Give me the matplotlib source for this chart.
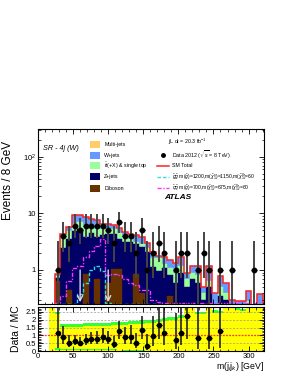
import numpy as np
import matplotlib
matplotlib.use("Agg")
import matplotlib.pyplot as plt
from matplotlib.patches import Rectangle
from matplotlib.lines import Line2D
from matplotlib.ticker import MultipleLocator, LogLocator, FixedFormatter, FixedLocator, NullFormatter

plt.rcParams['font.family'] = ['Liberation Sans', 'DejaVu Sans']
plt.rcParams['mathtext.fontset'] = 'custom'
plt.rcParams['mathtext.rm'] = 'Liberation Sans'
plt.rcParams['mathtext.it'] = 'Liberation Sans:italic'

# 8 GeV bins, 24 -> 320 GeV
edges = np.arange(24, 328, 8)
centers = edges[:-1] + 4

diboson = [0.65, 0.1, 0.45, 0.2, 0.1, 0.85, 0.1, 0.7, 0.2, 0.6, 1.05, 1.05, 0.15, 0.1, 0.85, 0.4, 0.1,
           0.05, 0.05, 0.05, 0.35, 0.05, 0.05, 0.05, 0.05, 0.05, 0.03, 0.05, 0.03, 0.05, 0.03, 0.03,
           0.02, 0.02, 0.03, 0.02, 0.02]
zjets = [0.07, 2.3, 3.05, 4.7, 5.1, 2.95, 4.4, 3.1, 4.0, 3.8, 3.25, 2.45, 2.95, 3.0, 2.05, 2.1, 2.0,
         1.1, 0.9, 1.05, 0.45, 0.55, 0.85, 0.45, 0.65, 0.55, 0.27, 0.45, 0.17, 0.3, 0.27, 0.12,
         0.13, 0.10, 0.17, 0.06, 0.18]
ttbar = [0.06, 1.4, 1.4, 1.5, 1.8, 2.2, 1.5, 1.4, 1.2, 1.0, 0.9, 1.0, 0.7, 0.5, 0.2, 0.4, 0.3,
         0.45, 0.65, 0.2, 0.3, 0.3, 0.3, 0.2, 0.2, 0.2, 0.1, 0.15, 0.05, 0.15, 0.1, 0.05,
         0.03, 0.03, 0.08, 0.02, 0.05]
wjets = [0.07, 0.6, 0.8, 2.9, 2.2, 2.8, 2.0, 2.4, 1.2, 1.2, 1.1, 1.1, 0.8, 0.7, 1.0, 0.9, 0.6,
         0.5, 0.2, 0.4, 0.4, 0.45, 0.5, 0.2, 0.3, 0.4, 0.1, 0.55, 0.15, 0.27, 0.2, 0.1,
         0.1, 0.13, 0.14, 0.1, 0.13]
data = [1, 4, 3, 6, 5, 6, 6, 6, 6, 5, 3, 7, 4, 4, 2, 5, 1, 2, 3, 2, 0, 1, 2, 2, 0, 1, 2, 1, 0, 1,
        0, 1, 0, 0, 0, 1, 0]
sig_gg = [0.255, 0.255, 0.255, 0.255, 0.37, 0.6, 1.0, 1.2, 0.95, 0.26, 0.255, 0.255, 0.255, 0.255,
          0.255, 0.255, 0.255, 0.255, 0.255, 0.255, 0.255, 0.255, 0.255, 0.255, 0.255, 0.255,
          0.255, 0.255, 0.255, 0.255, 0.255, 0.255, 0.255, 0.255, 0.255, 0.255, 0.255]
sig_qq = [0.26, 0.35, 0.63, 1.07, 1.2, 1.7, 2.2, 2.7, 3.6, 0.8, 0.85, 0.8, 0.7, 0.6, 0.55, 0.45,
          0.45, 0.3, 0.27, 0.26, 0.26, 0.26, 0.26, 0.26, 0.26, 0.26, 0.26, 0.26, 0.26, 0.26,
          0.26, 0.26, 0.26, 0.26, 0.26, 0.26, 0.26]

# ratio band (bins from 16 GeV)
band_edges = np.arange(16, 328, 8)
band_green_up = [3, 2.5, 1.75, 1.72, 1.75, 1.75, 1.78, 1.8, 1.78, 1.8, 1.82, 1.85, 1.85, 1.88, 1.9,
                 1.92, 1.95, 2.0, 2.0, 2.05, 2.1, 2.15, 2.2, 2.3, 3, 3, 2.5, 2.5, 3, 2.6, 2.55,
                 3, 3, 2.75, 2.7, 3, 3, 3]
band_yellow_up = [3, 2.35, 1.55, 1.52, 1.55, 1.55, 1.58, 1.6, 1.58, 1.6, 1.62, 1.65, 1.65, 1.68, 1.7,
                  1.72, 1.75, 1.8, 1.8, 1.85, 1.9, 1.95, 2.0, 2.1, 3, 3, 2.35, 2.35, 3, 2.45, 2.4,
                  3, 3, 2.6, 2.55, 3, 3, 3]
band_green_lo = [0, 0.05, 0.08, 0.08, 0.08, 0.08, 0.07, 0.07, 0.07, 0.06, 0.06, 0.05, 0.05, 0.04,
                 0.03, 0.02, 0.01, 0, 0, 0, 0, 0, 0, 0, 0, 0, 0, 0, 0, 0, 0, 0, 0, 0, 0, 0, 0, 0]
band_green_lo_top = [0, 0.2, 0.17, 0.16, 0.16, 0.15, 0.15, 0.14, 0.14, 0.13, 0.12, 0.11, 0.1, 0.09,
                     0.08, 0.07, 0.05, 0.03, 0, 0, 0, 0, 0, 0, 0, 0, 0, 0, 0, 0, 0, 0, 0, 0, 0, 0, 0, 0]

# poisson 68% intervals
pois_lo = {1: 0.17, 2: 0.71, 3: 1.37, 4: 2.09, 5: 2.84, 6: 3.62, 7: 4.42}
pois_hi = {1: 3.30, 2: 4.64, 3: 5.92, 4: 7.16, 5: 8.38, 6: 9.58, 7: 10.77}

c_multi = '#FFCC66'
c_w = '#6699FF'
c_tt = '#99FF99'
c_z = '#000066'
c_dib = '#663300'

fig = plt.figure(figsize=(2.89, 3.74), dpi=100)
ax = fig.add_axes([0.1315, 0.187, 0.782, 0.468])
rx = fig.add_axes([0.1315, 0.061, 0.782, 0.118])

diboson = np.array(diboson)
zjets = np.array(zjets)
ttbar = np.array(ttbar)
wjets = np.array(wjets)
data = np.array(data)
total = diboson + zjets + ttbar + wjets

layers = [(diboson + zjets + ttbar + wjets, c_w),
          (diboson + zjets + ttbar, c_tt),
          (diboson + zjets, c_z),
          (diboson, c_dib)]
for vals, col in layers:
    ax.bar(edges[:-1], vals - 1e-3, width=8, bottom=1e-3, align='edge', color=col,
           edgecolor=col, linewidth=0.3)

ax.stairs(total, edges, baseline=1e-3, color='#ff2222', lw=1.1)
ax.stairs(sig_gg, edges, color='#33dddd', lw=1.0, ls=(0, (2.5, 1.5)))
ax.stairs(sig_qq, edges, color='#ff33ff', lw=1.0, ls=(0, (3, 1.2, 1, 1.2)))

for xa in [60, 100]:
    ax.annotate('', xy=(xa, 0.27), xytext=(xa, 1.0),
                arrowprops=dict(arrowstyle='->', color='#dddddd', lw=1.0,
                                mutation_scale=9, shrinkA=0, shrinkB=0))

m = data > 0
lo = np.array([pois_lo[int(n)] for n in data[m]])
hi = np.array([pois_hi[int(n)] for n in data[m]])
ax.errorbar(centers[m], data[m], yerr=[data[m] - lo, hi - data[m]], fmt='none',
            ecolor='#444444', elinewidth=1.4, capsize=0)
ax.errorbar(centers[m], data[m], xerr=4, fmt='o', color='black', ms=3.2, elinewidth=0.8,
            capsize=0)

ax.set_yscale('log')
ax.set_xlim(0, 322)
ax.set_ylim(0.25, 310)
ax.yaxis.set_major_locator(FixedLocator([1, 10, 100]))
ax.yaxis.set_major_formatter(FixedFormatter(['1', '10', r'10$^{2}$']))
ax.yaxis.set_minor_locator(LogLocator(base=10, subs=np.arange(2, 10)))
ax.yaxis.set_minor_formatter(NullFormatter())
ax.xaxis.set_major_locator(MultipleLocator(50))
ax.xaxis.set_minor_locator(MultipleLocator(10))
ax.tick_params(labelbottom=False)
ax.set_ylabel('Events / 8 GeV', fontsize=8.5, loc='top')
ax.yaxis.set_label_coords(-0.105, 0.93)

# legend, left column
tr = ax.transAxes
labels_l = ['Multi-jets', 'W+jets', r'$\bar{t}$t(+X) & single top', 'Z+jets', 'Diboson']
cols_l = [c_multi, c_w, c_tt, c_z, c_dib]
ys = [0.914, 0.851, 0.789, 0.726, 0.663]
for lab, col, yy in zip(labels_l, cols_l, ys):
    ax.add_patch(Rectangle((0.23, yy - 0.02), 0.045, 0.04, transform=tr, color=col, lw=0))
    ax.text(0.293, yy, lab, transform=tr, fontsize=3.8, va='center')

# legend, right column
ax.text(0.575, 0.925, r'$\int$L dt = 20.3 fb$^{-1}$', transform=tr, fontsize=3.8, va='center')
ax.plot([0.553], [ys[1]], 'o', color='black', ms=2.5, transform=tr)
ax.text(0.593, ys[1], r'Data 2012 ($\sqrt{s}$ = 8 TeV)', transform=tr, fontsize=3.8, va='center')
ax.add_line(Line2D([0.527, 0.578], [ys[2], ys[2]], transform=tr, color='#ff2222', lw=1.1))
ax.text(0.593, ys[2], 'SM Total', transform=tr, fontsize=3.8, va='center')
ax.add_line(Line2D([0.527, 0.578], [ys[3], ys[3]], transform=tr, color='#33dddd', lw=1.0,
                   ls=(0, (2.5, 1.5))))
ax.text(0.593, ys[3],
        r'$\tilde{g}\tilde{g}$ m($\tilde{g}$)=1200,m($\tilde{\chi}^{\pm}_{1}$)=1150,m($\tilde{\chi}^{0}_{1}$)=60',
        transform=tr, fontsize=3.6, va='center')
ax.add_line(Line2D([0.527, 0.578], [ys[4], ys[4]], transform=tr, color='#ff33ff', lw=1.0,
                   ls=(0, (3, 1.2, 1, 1.2))))
ax.text(0.593, ys[4],
        r'$\tilde{q}\tilde{q}$ m($\tilde{q}$)=700,m($\tilde{\chi}^{\pm}_{1}$)=675,m($\tilde{\chi}^{0}_{1}$)=60',
        transform=tr, fontsize=3.6, va='center')

ax.text(0.022, 0.886, 'SR - 4j (W)', transform=tr, fontsize=5.2, style='italic', va='center')
ax.text(0.62, 0.606, 'ATLAS', transform=tr, fontsize=6, style='italic', weight='bold',
        ha='center', va='center')

# ratio panel
rx.stairs(band_yellow_up, band_edges, baseline=0, fill=True, color='#FFFF00', lw=0)
rx.stairs(band_green_up, band_edges, baseline=band_yellow_up, fill=True, color='#33FF33', lw=0)
rx.stairs(band_green_lo_top, band_edges, baseline=band_green_lo, fill=True, color='#33FF33', lw=0)
for yl in [0.5, 1.5, 2.0, 2.5]:
    rx.axhline(yl, color='#999999', lw=0.5, ls=(0, (3, 2)))
rx.axhline(1.0, color='#ff3333', lw=0.9, ls=(0, (1.5, 1)))

ratio = data / total
rm = (data > 0) & (ratio <= 2.8)
r_lo = np.array([pois_lo[int(n)] for n in data[rm]]) / total[rm]
r_hi = np.array([pois_hi[int(n)] for n in data[rm]]) / total[rm]
rx.errorbar(centers[rm], ratio[rm], yerr=[ratio[rm] - r_lo, r_hi - ratio[rm]], fmt='none',
            ecolor='#222222', elinewidth=1.2, capsize=0)
rx.errorbar(centers[rm], ratio[rm], xerr=4, fmt='o', color='black', ms=3.0, elinewidth=0.8,
            capsize=0)

rx.set_xlim(0, 322)
rx.set_ylim(0, 2.8)
rx.yaxis.set_major_locator(MultipleLocator(0.5))
rx.yaxis.set_major_formatter(FixedFormatter(['', '0', '0.5', '1', '1.5', '2', '2.5']))
rx.yaxis.set_minor_locator(MultipleLocator(0.1))
rx.xaxis.set_major_locator(MultipleLocator(50))
rx.xaxis.set_minor_locator(MultipleLocator(10))
rx.set_ylabel('Data / MC', fontsize=7.5, labelpad=3)
rx.set_xlabel(r'm(j$_{i}$j$_{k}$) [GeV]', fontsize=6.3, loc='right', labelpad=0)

for a in [ax, rx]:
    a.tick_params(which='both', direction='in', top=True, right=True, labelsize=5.5, pad=1.5)
    a.tick_params(which='major', length=3.5, width=0.6)
    a.tick_params(which='minor', length=1.8, width=0.5)
    for s in a.spines.values():
        s.set_linewidth(0.8)
    a.set_axisbelow(False)

fig.savefig('out.png', dpi=100)
